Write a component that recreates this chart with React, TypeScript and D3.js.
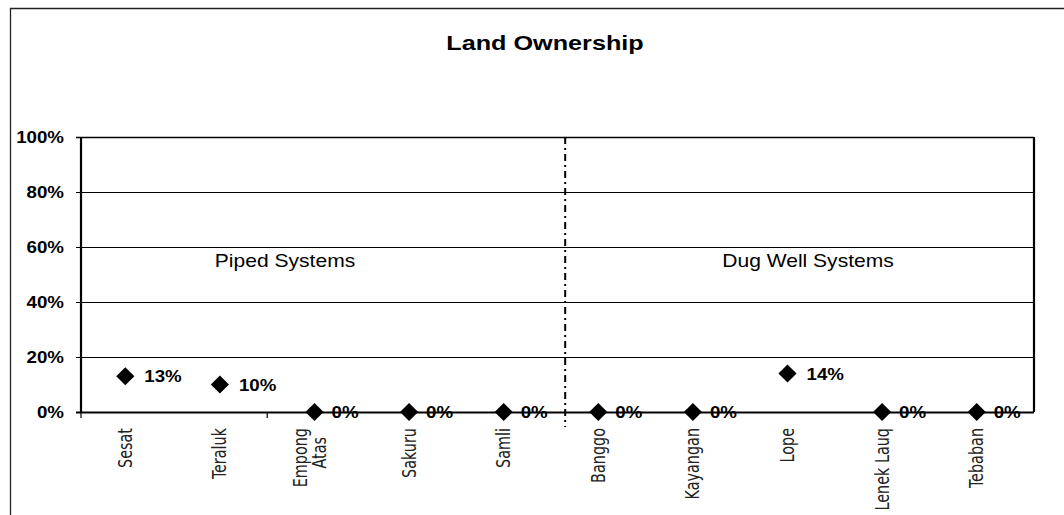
import React from "react";
import * as d3 from "d3";

const categories: string[][] = [
  ["Sesat"], ["Teraluk"], ["Empong", "Atas"], ["Sakuru"], ["Samli"],
  ["Banggo"], ["Kayangan"], ["Lope"], ["Lenek Lauq"], ["Tebaban"],
];
const values: number[] = [0.13, 0.1, 0, 0, 0, 0, 0, 0.14, 0, 0];
const yTicks: number[] = [0, 0.2, 0.4, 0.6, 0.8, 1.0];
const groupLabels: string[] = ["Piped Systems", "Dug Well Systems"];
const title = "Land Ownership";

const W = 1064, H = 515;
const SX = 1.17;
const FONT = "Arial, 'Liberation Sans', sans-serif";
const NARROW = "'Liberation Sans Narrow', 'Arial Narrow', 'DejaVu Sans Condensed', sans-serif";

export default function App() {
  const plotL = 81, plotR = 1034, plotT = 137, plotB = 412;
  const x = d3.scaleBand<number>().domain(d3.range(categories.length)).range([78, 1024]);
  const cx = (i: number) => (x(i) as number) + x.bandwidth() / 2;
  const y = d3.scaleLinear().domain([0, 1]).range([plotB, plotT]);
  const fmt = d3.format(".0%");
  const diamond = d3.symbol().type(d3.symbolSquare).size(165)();
  const dividerX = cx(5) - 0.35 * x.bandwidth();
  const tickXs = [plotL, x(2) as number];
  const groupX = [285, 808];

  return (
    <svg width={W} height={H} style={{ display: "block", position: "absolute", left: 0, top: 0 }}>
      <rect x={0} y={0} width={W} height={H} fill="#fff" />
      {/* outer chart border */}
      <path d={`M10.5,${H} L10.5,8.5 L${W},8.5`} fill="none" stroke="#222" strokeWidth={1.3} />
      {/* title */}
      <text transform={`translate(545,50) scale(1.2,1)`} textAnchor="middle" fontFamily={FONT}
        fontWeight="bold" fontSize={21} fill="#000">{title}</text>
      {/* gridlines */}
      {yTicks.map((t) => (
        <line key={"g" + t} x1={plotL - 5} x2={plotR} y1={Math.round(y(t)) + 0.5} y2={Math.round(y(t)) + 0.5}
          stroke="#000" strokeWidth={t === 0 ? 2 : t === 1 ? 1.6 : 1} />
      ))}
      {/* frame */}
      <line x1={plotL} x2={plotL} y1={plotT} y2={plotB} stroke="#000" strokeWidth={2.2} />
      <line x1={plotR} x2={plotR} y1={plotT} y2={plotB} stroke="#000" strokeWidth={2.2} />
      {tickXs.map((tx, i) => (
        <line key={"xt" + i} x1={tx} x2={tx} y1={plotB} y2={plotB + 6} stroke="#000" strokeWidth={1.2} />
      ))}
      {/* y tick labels */}
      {yTicks.map((t) => (
        <text key={"yl" + t} transform={`translate(64,${y(t) + 6}) scale(${SX},1)`} textAnchor="end"
          fontFamily={FONT} fontWeight="bold" fontSize={16} fill="#000">{fmt(t)}</text>
      ))}
      {/* divider */}
      <line x1={dividerX} x2={dividerX} y1={plotT} y2={427} stroke="#000" strokeWidth={2}
        strokeDasharray="7,4,2,4" />
      {/* group labels */}
      {groupLabels.map((g, i) => (
        <text key={g} transform={`translate(${groupX[i]},267) scale(${SX},1)`} textAnchor="middle"
          fontFamily={FONT} fontSize={18} fill="#000">{g}</text>
      ))}
      {/* markers and labels */}
      {values.map((v, i) => (
        <g key={"m" + i}>
          <path d={diamond} transform={`translate(${cx(i)},${y(v)}) rotate(45)`} fill="#000" />
          <text transform={`translate(${cx(i) + (v === 0 ? 17 : 19)},${y(v) + 6}) scale(${SX},1)`}
            fontFamily={FONT} fontWeight="bold" fontSize={16} fill="#000">{fmt(v)}</text>
        </g>
      ))}
      {/* category labels */}
      {categories.map((lines, i) => {
        const n = lines.length;
        return lines.map((ln, j) => {
          const off = n === 1 ? 0 : (j === 0 ? -14 : 5);
          const top = n === 1 ? 428 : (j === 0 ? 428 : 437);
          return (
            <text key={"c" + i + j}
              transform={`translate(${cx(i) + off},${top}) scale(${SX},1) rotate(-90)`}
              textAnchor="end" dy="0.35em" fontFamily={NARROW} fontSize={16} fill="#222">{ln}</text>
          );
        });
      })}
    </svg>
  );
}
